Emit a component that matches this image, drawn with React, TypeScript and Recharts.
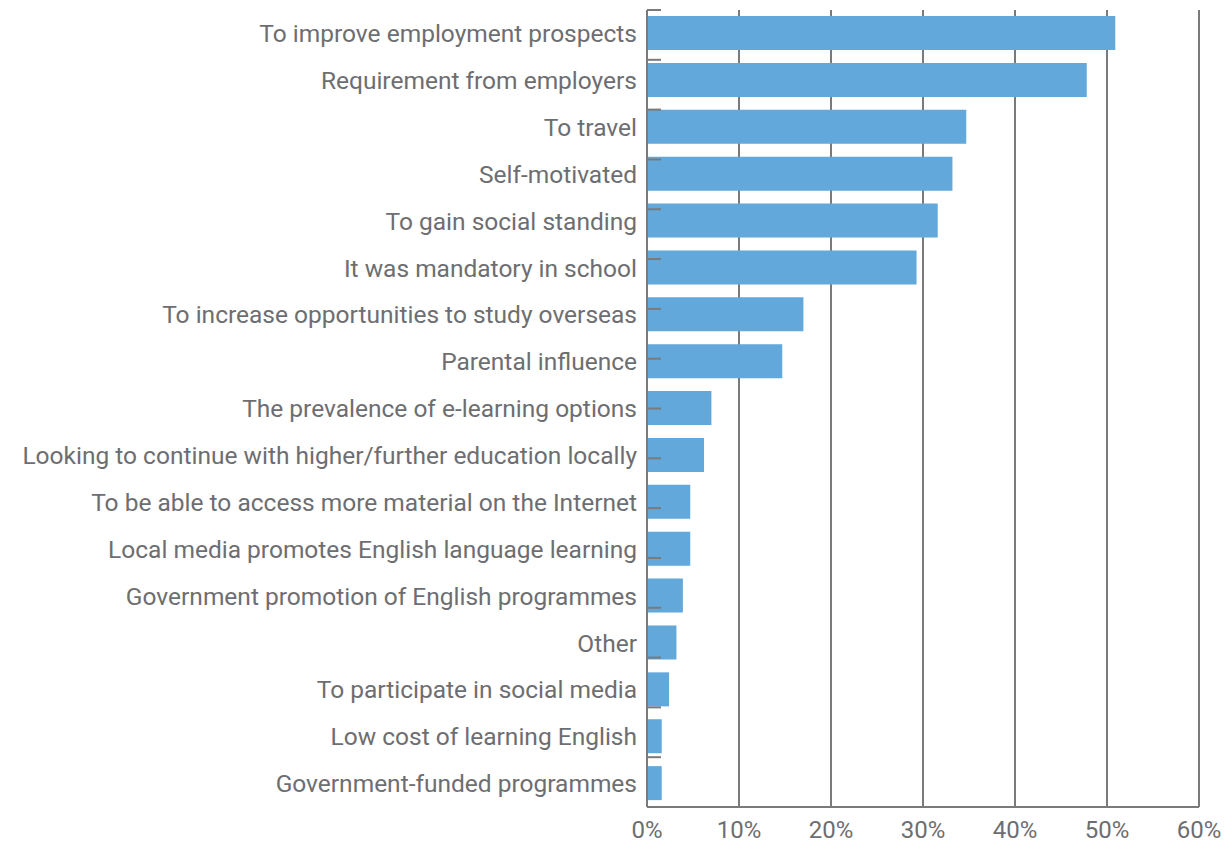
import { BarChart, Bar, XAxis, YAxis, CartesianGrid } from 'recharts';

const reasons = [
  'To improve employment prospects',
  'Requirement from employers',
  'To travel',
  'Self-motivated',
  'To gain social standing',
  'It was mandatory in school',
  'To increase opportunities to study overseas',
  'Parental influence',
  'The prevalence of e-learning options',
  'Looking to continue with higher/further education locally',
  'To be able to access more material on the Internet',
  'Local media promotes English language learning',
  'Government promotion of English programmes',
  'Other',
  'To participate in social media',
  'Low cost of learning English',
  'Government-funded programmes',
];

const shares = [50.9, 47.8, 34.7, 33.2, 31.6, 29.3, 17.0, 14.7, 7.0, 6.2, 4.7, 4.7, 3.9, 3.2, 2.4, 1.6, 1.6];

const pctTicks = [0, 10, 20, 30, 40, 50, 60];
const bandEdges = reasons.map((_, i) => i).concat(reasons.length);

const data = reasons.map((name, i) => ({ name, value: shares[i] }));

const textColor = '#6d6e71';
const lineColor = '#7a7a7a';

export default function App() {
  return (
    <>
      <style>{'body { margin: 0; overflow: hidden; }'}</style>
      <BarChart
        width={1232}
        height={843}
        data={data}
        layout="vertical"
        margin={{ top: 10, right: 33, left: 0, bottom: 0 }}
        style={{ fontFamily: 'Roboto, sans-serif' }}
      >
        <CartesianGrid horizontal={false} stroke={lineColor} strokeWidth={2} />
        <XAxis
          type="number"
          domain={[0, 60]}
          ticks={pctTicks}
          tickFormatter={(v) => `${v}%`}
          height={36}
          tickLine={false}
          tickSize={0}
          tickMargin={14}
          axisLine={{ stroke: lineColor, strokeWidth: 2 }}
          tick={{ fill: textColor, fontSize: 24 }}
        />
        <YAxis
          type="category"
          dataKey="name"
          width={647}
          interval={0}
          tickLine={false}
          axisLine={false}
          tickSize={0}
          tickMargin={10}
          tick={{ fill: textColor, fontSize: 24.5 }}
        />
        {/* short ticks on the band edges, pointing into the plot */}
        <YAxis
          yAxisId="edges"
          type="number"
          orientation="left"
          mirror
          domain={[0, reasons.length]}
          ticks={bandEdges}
          interval={0}
          tick={() => <g />}
          tickSize={14}
          tickLine={{ stroke: lineColor, strokeWidth: 2 }}
          axisLine={{ stroke: lineColor, strokeWidth: 2 }}
        />
        <Bar dataKey="value" fill="#62a8db" barSize={34} isAnimationActive={false} />
      </BarChart>
    </>
  );
}
